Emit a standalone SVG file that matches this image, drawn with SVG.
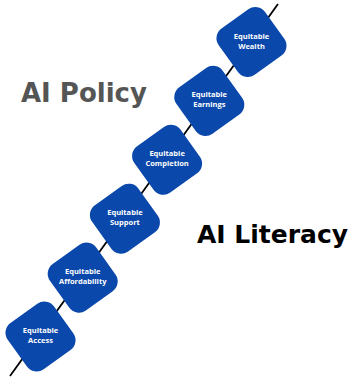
<svg xmlns="http://www.w3.org/2000/svg" width="361" height="380" viewBox="0 0 361 380">
<style>
.box{fill:#0b48ab}
.lbl{font-family:"Open Sans","Noto Sans",sans-serif;font-weight:700;font-size:7.5px;fill:#ffffff;text-anchor:middle}
.title{font-family:"DejaVu Sans",sans-serif;font-weight:bold}
</style>
<defs>
<rect id="sq" x="-28.5" y="-28.5" width="57" height="57" rx="12" ry="12" transform="rotate(-35.6)"/>
</defs>
<rect width="361" height="380" fill="#ffffff"/>
<g id="connectors">
<line x1="10" y1="376" x2="278" y2="4" stroke="#000000" stroke-width="1.8"/>
</g>
<g id="node-access" transform="translate(40.5,336.5)">
<use href="#sq" class="box"/>
<text class="lbl" y="-3.5">Equitable</text>
<text class="lbl" y="6.5">Access</text>
</g>
<g id="node-affordability" transform="translate(82.7,277.6)">
<use href="#sq" class="box"/>
<text class="lbl" y="-3.5">Equitable</text>
<text class="lbl" y="6.5">Affordability</text>
</g>
<g id="node-support" transform="translate(124.9,218.7)">
<use href="#sq" class="box"/>
<text class="lbl" y="-3.5">Equitable</text>
<text class="lbl" y="6.5">Support</text>
</g>
<g id="node-completion" transform="translate(167.1,159.8)">
<use href="#sq" class="box"/>
<text class="lbl" y="-3.5">Equitable</text>
<text class="lbl" y="6.5">Completion</text>
</g>
<g id="node-earnings" transform="translate(209.3,100.9)">
<use href="#sq" class="box"/>
<text class="lbl" y="-3.5">Equitable</text>
<text class="lbl" y="6.5">Earnings</text>
</g>
<g id="node-wealth" transform="translate(251.5,42)">
<use href="#sq" class="box"/>
<text class="lbl" y="-3.5">Equitable</text>
<text class="lbl" y="6.5">Wealth</text>
</g>
<text id="ai-policy" class="title" x="21" y="102" font-size="26" fill="#555555">AI Policy</text>
<text id="ai-literacy" class="title" x="197" y="243" font-size="25" fill="#000000">AI Literacy</text>
</svg>
